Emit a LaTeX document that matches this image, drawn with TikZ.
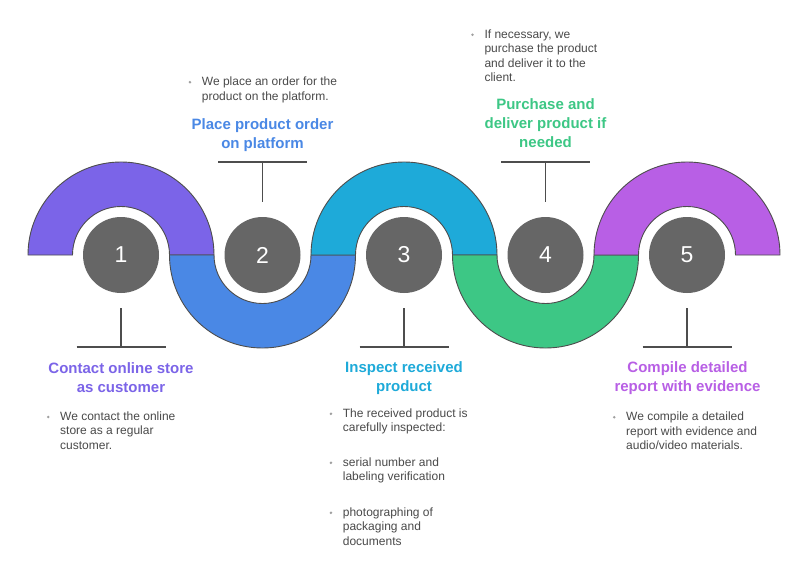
\documentclass[tikz,border=0pt]{standalone}
\usepackage{fontspec}
\setmainfont{Liberation Sans}
\usetikzlibrary{calc}
\definecolor{cpurple}{HTML}{7B64E8}
\definecolor{cblue}{HTML}{4A88E5}
\definecolor{ccyan}{HTML}{1EAAD9}
\definecolor{cgreen}{HTML}{3DC785}
\definecolor{cmagenta}{HTML}{B85FE5}
\definecolor{edgec}{HTML}{4D4D4D}
\definecolor{numfill}{HTML}{666666}
\definecolor{bodytext}{HTML}{4A4A4A}
\definecolor{bulletc}{HTML}{A0A0A0}
\begin{document}
\begin{tikzpicture}[x=1pt,y=-1pt,
  band/.style={draw=edgec, line width=0.9pt},
  numcirc/.style={circle, fill=numfill, minimum size=76pt, inner sep=0pt, text=white, font=\fontsize{23}{23}\selectfont},
  titletext/.style={align=center, inner sep=0pt, anchor=north, font=\fontsize{15}{19}\selectfont\bfseries},
  bodynode/.style={align=left, inner sep=0pt, anchor=north west, text=bodytext, font=\fontsize{12}{14.5}\selectfont},
  tickline/.style={draw=edgec, line width=1.3pt},
  bul/.style={fill=bulletc}]
\useasboundingbox (0,0) rectangle (800,564);
\fill[white] (0,0) rectangle (800,564);
% bands
\path[band, fill=cpurple] (121-93,255) arc[start angle=180, end angle=360, radius=93] -- (121+48.5,255) arc[start angle=0, end angle=-180, radius=48.5] -- cycle;
\path[band, fill=cblue] (262.5-93,255) arc[start angle=180, end angle=0, radius=93] -- (262.5+48.5,255) arc[start angle=0, end angle=180, radius=48.5] -- cycle;
\path[band, fill=ccyan] (404-93,255) arc[start angle=180, end angle=360, radius=93] -- (404+48.5,255) arc[start angle=0, end angle=-180, radius=48.5] -- cycle;
\path[band, fill=cgreen] (545.5-93,255) arc[start angle=180, end angle=0, radius=93] -- (545.5+48.5,255) arc[start angle=0, end angle=180, radius=48.5] -- cycle;
\path[band, fill=cmagenta] (687-93,255) arc[start angle=180, end angle=360, radius=93] -- (687+48.5,255) arc[start angle=0, end angle=-180, radius=48.5] -- cycle;
% number circles
\node[numcirc] (n1) at (121,255) {1};
\node[numcirc] (n2) at (262.5,255) {2};
\node[numcirc] (n3) at (404,255) {3};
\node[numcirc] (n4) at (545.5,255) {4};
\node[numcirc] (n5) at (687,255) {5};
% ticks
\coordinate (k1) at (121,308);
\coordinate (k2) at (262.5,202);
\coordinate (k3) at (404,308);
\coordinate (k4) at (545.5,202);
\coordinate (k5) at (687,308);
\foreach \k in {k1,k3,k5}{
  \draw[tickline] (\k) -- ++(0,39) ++(-44.5,0) -- ++(89,0);
}
\foreach \k in {k2,k4}{
  \draw[tickline] (\k) -- ++(0,-40) ++(-44.5,0) -- ++(89,0);
}
% titles
\node[titletext, text=cpurple] (t1) at (121,362) {Contact online store\\as customer};
\node[titletext, text=cblue] (t2) at (262.5,118) {Place product order\\on platform};
\node[titletext, text=ccyan] (t3) at (404,361.5) {Inspect received\\product};
\node[titletext, text=cgreen] (t4) at (545.5,98.5) {Purchase and\\deliver product if\\needed};
\node[titletext, text=cmagenta] (t5) at (687.5,361.5) {Compile detailed\\report with evidence};
% bodies
\node[bodynode] (b1) at (60,411.5) {We contact the online\\store as a regular\\customer.};
\node[bodynode] (b2) at (201.7,76.7) {We place an order for the\\product on the platform.};
\node[bodynode] (b3a) at (342.7,408.3) {The received product is\\carefully inspected:};
\node[bodynode] (b3b) at (342.7,457.3) {serial number and\\labeling verification};
\node[bodynode] (b3c) at (342.7,507.3) {photographing of\\packaging and\\documents};
\node[bodynode] (b4) at (484.3,29.3) {If necessary, we\\purchase the product\\and deliver it to the\\client.};
\node[bodynode] (b5) at (626,411.7) {We compile a detailed\\report with evidence and\\audio/video materials.};
\foreach \b in {b1,b2,b3a,b3b,b3c,b4,b5}{
  \fill[bul] ($(\b.north west)+(-11.8,5.5)$) circle[radius=1.4pt];
}
\end{tikzpicture}
\end{document}
